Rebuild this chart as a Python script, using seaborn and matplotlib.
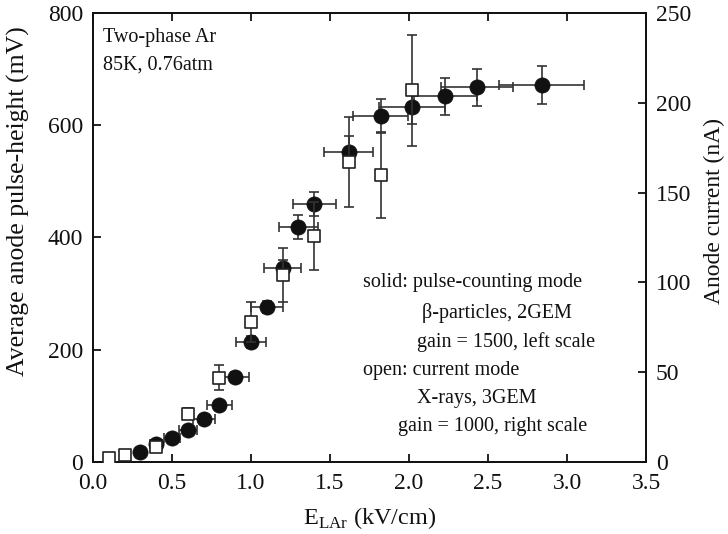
import numpy as np
import matplotlib
matplotlib.use("Agg")
import matplotlib.pyplot as plt
import seaborn as sns

# ==================== DATA ====================

# solid circles: pulse-counting mode, left scale (mV)
E_SOLID = [0.3, 0.4, 0.5, 0.6, 0.7, 0.8, 0.9, 1.0, 1.1, 1.2, 1.3, 1.4,
           1.62, 1.82, 2.02, 2.23, 2.43, 2.84]
PH_SOLID = [18, 32, 43, 57, 77, 102, 152, 214, 276, 346, 419, 460,
            553, 617, 633, 652, 668, 672]
XERR_SOLID = [0.03, 0.04, 0.05, 0.057, 0.07, 0.08, 0.09, 0.095, 0.1, 0.115,
              0.125, 0.135, 0.155, 0.175, 0.21, 0.2, 0.23, 0.27]
YERR_SOLID = [4, 5, 5, 6, 6, 7, 8, 10, 10, 14, 21, 21, 27, 30, 30, 33, 33, 34]

# open squares: current mode, right scale (nA)
E_OPEN = [0.1, 0.2, 0.4, 0.6, 0.8, 1.0, 1.2, 1.4, 1.62, 1.82, 2.02]
I_OPEN = [2.2, 3.9, 8.4, 27, 47, 78, 104, 126, 167, 160, 207]
YERR_OPEN = [1, 1.5, 2, 3, 7, 11, 15, 19, 25, 24, 31]

X_TICKS = [0.0, 0.5, 1.0, 1.5, 2.0, 2.5, 3.0, 3.5]
LEFT_TICKS = [0, 200, 400, 600, 800]
RIGHT_TICKS = [0, 50, 100, 150, 200, 250]

# ==================== STYLE ====================

sns.set_theme(style="ticks")
plt.rcParams['font.family'] = ['Liberation Serif', 'DejaVu Serif']
plt.rcParams['mathtext.fontset'] = 'custom'
plt.rcParams['mathtext.rm'] = 'Liberation Serif'

fig = plt.figure(figsize=(7.28, 5.34), dpi=100)
ax = fig.add_axes([0.1277, 0.1348, 0.7597, 0.8409])
ax2 = ax.twinx()

# ==================== SOLID ====================

ax.errorbar(E_SOLID, PH_SOLID, xerr=XERR_SOLID, yerr=YERR_SOLID,
            fmt='none', ecolor='#333333', elinewidth=1.2,
            capsize=3.5, capthick=1.2, zorder=2)
sns.scatterplot(x=E_SOLID, y=PH_SOLID, ax=ax, marker='o', s=120,
                color='#111111', edgecolor='#111111', linewidth=0.5, zorder=3)

# ==================== OPEN ====================

ax2.errorbar(E_OPEN, I_OPEN, yerr=YERR_OPEN,
             fmt='none', ecolor='#333333', elinewidth=1.2,
             capsize=3.5, capthick=1.2, zorder=2)
sns.scatterplot(x=E_OPEN, y=I_OPEN, ax=ax2, marker='s', s=72,
                color='white', edgecolor='#222222', linewidth=1.2, zorder=3)

# ==================== AXES ====================

ax.set_xlim(0, 3.5)
ax.set_ylim(0, 800)
ax2.set_ylim(0, 250)
ax.set_xticks(X_TICKS)
ax.set_xticklabels([f"{t:.1f}" for t in X_TICKS])
ax.set_yticks(LEFT_TICKS)
ax2.set_yticks(RIGHT_TICKS)

for a in (ax, ax2):
    for sp in a.spines.values():
        sp.set_linewidth(1.3)
        sp.set_color('#111111')
        sp.set_visible(True)

ax.tick_params(axis='both', direction='in', length=6, width=1.3,
               labelsize=17, pad=7, colors='#111111')
ax.tick_params(axis='x', top=True, pad=8)
ax.tick_params(axis='y', right=False)
ax2.tick_params(axis='y', direction='in', length=6, width=1.3,
                labelsize=17, pad=7, colors='#111111')

ax.set_xlabel(r'E$_{\mathrm{LAr}}$ (kV/cm)', fontsize=17.5, color='#111111')
ax.set_ylabel('Average anode pulse-height (mV)', fontsize=18.5,
              color='#111111')
ax2.set_ylabel('Anode current (nA)', fontsize=17, color='#111111',
               rotation=90)
ax.yaxis.set_label_coords(-0.114, 0.58)
ax2.yaxis.set_label_coords(1.104, 0.56)
ax.xaxis.set_label_coords(0.5, -0.095)

# ==================== TEXT ====================

ax.text(0.019, 0.945, 'Two-phase Ar', transform=ax.transAxes,
        fontsize=14.5, va='center', ha='left', color='#111111')
ax.text(0.019, 0.885, '85K, 0.76atm', transform=ax.transAxes,
        fontsize=14.5, va='center', ha='left', color='#111111')

NOTE_LINES = [
    ('solid: pulse-counting mode', 363, 283),
    ('\u03b2-particles, 2GEM', 422, 313),
    ('gain = 1500, left scale', 417, 342),
    ('open: current mode', 363, 370),
    ('X-rays, 3GEM', 417, 398),
    ('gain = 1000, right scale', 398, 427),
]
for txt, px, py in NOTE_LINES:
    fig.text(px / 728, 1 - py / 534, txt, fontsize=14.5,
             va='center', ha='left', color='#111111')

fig.savefig('out.png', dpi=100)
